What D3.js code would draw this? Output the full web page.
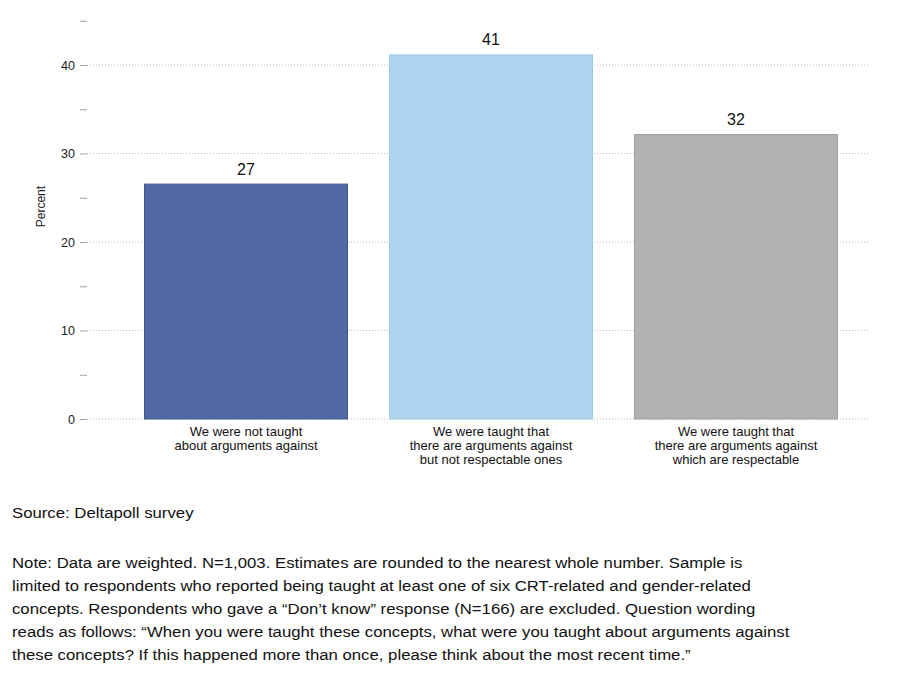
<!DOCTYPE html>
<html>
<head>
<meta charset="utf-8">
<script src="https://cdn.jsdelivr.net/npm/d3@7"></script>
<style>
  html, body { margin: 0; padding: 0; background: #fff; }
  svg { display: block; }
  text { font-family: "Liberation Sans", Arial, Helvetica, sans-serif; }
</style>
</head>
<body>
<svg id="chart" width="901" height="691"></svg>
<script>
// ---- data ----
const categories = [
  ["We were not taught", "about arguments against"],
  ["We were taught that", "there are arguments against", "but not respectable ones"],
  ["We were taught that", "there are arguments against", "which are respectable"]
];
const values = [26.6, 41.2, 32.2];
const valueLabels = ["27", "41", "32"];
const barColors = ["#5068a4", "#aed4ef", "#b2b2b2"];
const barStrokes = ["#44598f", "#9ecbea", "#9e9e9e"];
const majorTicks = [0, 10, 20, 30, 40];
const minorTicks = [5, 15, 25, 35, 45];
const yTitle = "Percent";
const sourceText = "Source: Deltapoll survey";
const noteLines = [
  "Note: Data are weighted. N=1,003. Estimates are rounded to the nearest whole number. Sample is",
  "limited to respondents who reported being taught at least one of six CRT-related and gender-related",
  "concepts. Respondents who gave a \u201cDon\u2019t know\u201d response (N=166) are excluded. Question wording",
  "reads as follows: \u201cWhen you were taught these concepts, what were you taught about arguments against",
  "these concepts? If this happened more than once, please think about the most recent time.\u201d"
];

// ---- layout ----
const svg = d3.select("#chart");
const axisX = 87, gridRight = 869;
const y = d3.scaleLinear().domain([0, 45]).range([419, 20.75]);
const x = d3.scaleBand().domain(d3.range(categories.length))
  .range([123.5, 858.5]).paddingInner(41 / 245).paddingOuter(41 / 490);

// gridlines (dotted)
svg.append("g").selectAll("line").data(majorTicks).join("line")
  .attr("x1", axisX).attr("x2", gridRight)
  .attr("y1", d => y(d)).attr("y2", d => y(d))
  .attr("stroke", "#bdbdbd").attr("stroke-width", 1)
  .attr("stroke-dasharray", "1,2");

// y axis major
const yAxis = d3.axisLeft(y).tickValues(majorTicks).tickSize(7).tickPadding(5);
const gy = svg.append("g").attr("transform", `translate(${axisX},0)`).call(yAxis);
gy.select(".domain").remove();
gy.selectAll(".tick line").attr("stroke", "#a0a0a0");
gy.selectAll(".tick text").attr("fill", "#222").style("font-size", "12.5px")
  .style("font-family", "'Liberation Sans', Arial, sans-serif");
// y axis minor
const yMinor = d3.axisLeft(y).tickValues(minorTicks).tickSize(7).tickFormat("");
const gm = svg.append("g").attr("transform", `translate(${axisX},0)`).call(yMinor);
gm.select(".domain").remove();
gm.selectAll(".tick line").attr("stroke", "#a0a0a0");

// y title
svg.append("text")
  .attr("transform", `translate(45,${y(24)}) rotate(-90)`)
  .attr("text-anchor", "middle")
  .style("font-size", "12px").attr("fill", "#222")
  .text(yTitle);

// bars
svg.append("g").selectAll("rect").data(values).join("rect")
  .attr("x", (d, i) => x(i) + 0.5)
  .attr("width", x.bandwidth() - 1)
  .attr("y", d => y(d) + 0.5)
  .attr("height", d => y(0) - y(d) - 0.5)
  .attr("fill", (d, i) => barColors[i])
  .attr("stroke", (d, i) => barStrokes[i])
  .attr("stroke-width", 1);

// value labels
svg.append("g").selectAll("text").data(values).join("text")
  .attr("x", (d, i) => x(i) + x.bandwidth() / 2)
  .attr("y", d => y(d) - 9)
  .attr("text-anchor", "middle")
  .style("font-size", "16px").style("font-weight", "500").attr("fill", "#111")
  .text((d, i) => valueLabels[i]);

// category labels
const cat = svg.append("g").selectAll("text").data(categories).join("text")
  .attr("x", (d, i) => x(i) + x.bandwidth() / 2)
  .attr("y", 436)
  .attr("text-anchor", "middle")
  .style("font-size", "13px").attr("fill", "#111");
cat.selectAll("tspan").data(d => d).join("tspan")
  .attr("x", function () { return d3.select(this.parentNode).attr("x"); })
  .attr("dy", (d, j) => j === 0 ? 0 : 14)
  .text(d => d);

// footnotes
const foot = svg.append("g");
foot.append("text").attr("x", 0).attr("y", 518)
  .style("font-size", "15px").attr("fill", "#111").text(sourceText);
const noteG = foot.append("g");
noteG.selectAll("text").data(noteLines).join("text")
  .attr("x", 0).attr("y", (d, i) => 568 + i * 23)
  .style("font-size", "15px").attr("fill", "#111")
  .text(d => d);
// condense horizontally to fit the reference width
const longest = d3.max(noteG.selectAll("text").nodes(), n => n.getComputedTextLength());
const sx = 778 / longest;
foot.attr("transform", `translate(12,0) scale(${sx},1)`);
</script>
</body>
</html>
